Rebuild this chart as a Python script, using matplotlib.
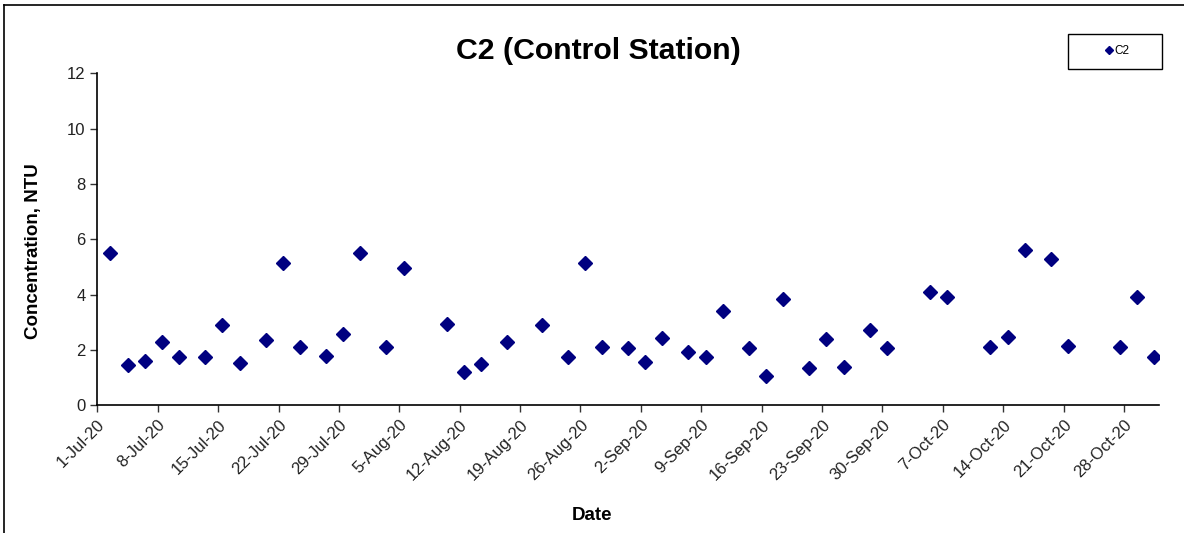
"""
C2 (Control Station) turbidity scatter, Jul-Oct 2020
"""
import matplotlib
matplotlib.use('Agg')
import matplotlib.pyplot as plt
from matplotlib.lines import Line2D
import pandas as pd

plt.rcParams['font.family'] = ['Liberation Sans', 'DejaVu Sans']

# sampling dates and readings
dates = ['2020-07-02', '2020-07-04', '2020-07-06', '2020-07-08', '2020-07-10', '2020-07-13',
         '2020-07-15', '2020-07-17', '2020-07-20', '2020-07-22', '2020-07-24', '2020-07-27',
         '2020-07-29', '2020-07-31', '2020-08-03', '2020-08-05', '2020-08-10', '2020-08-12',
         '2020-08-14', '2020-08-17', '2020-08-21', '2020-08-24', '2020-08-26', '2020-08-28',
         '2020-08-31', '2020-09-02', '2020-09-04', '2020-09-07', '2020-09-09', '2020-09-11',
         '2020-09-14', '2020-09-16', '2020-09-18', '2020-09-21', '2020-09-23', '2020-09-25',
         '2020-09-28', '2020-09-30', '2020-10-05', '2020-10-07', '2020-10-12', '2020-10-14',
         '2020-10-16', '2020-10-19', '2020-10-21', '2020-10-27', '2020-10-29', '2020-10-31']
c2 = [5.52, 1.46, 1.59, 2.29, 1.73, 1.75, 2.89, 1.53, 2.35, 5.14, 2.11, 1.79,
      2.58, 5.52, 2.11, 4.95, 2.94, 1.20, 1.48, 2.28, 2.89, 1.73, 5.14, 2.11,
      2.08, 1.56, 2.42, 1.94, 1.73, 3.41, 2.08, 1.05, 3.85, 1.34, 2.38, 1.37,
      2.72, 2.08, 4.11, 3.91, 2.11, 2.47, 5.62, 5.30, 2.13, 2.11, 3.93, 1.75]
y_ticks = [0, 2, 4, 6, 8, 10, 12]

# 画图
fig = plt.figure(figsize=(11.84, 5.33), dpi=100)
ax = fig.add_axes([0.0822, 0.2396, 0.8963, 0.6229])

# Excel puts each point in the middle of its day
x = pd.to_datetime(dates) + pd.Timedelta(hours=12)
ax.plot(x, c2, 'D', color='#000080', ms=7.5, mec='#000080', ls='none', label='C2')

ax.set_xlim(pd.Timestamp('2020-07-01'), pd.Timestamp('2020-11-01'))
ax.set_ylim(0, 12)
ax.set_yticks(y_ticks)
ticks = pd.date_range('2020-07-01', '2020-10-28', freq='7D')
ax.set_xticks(ticks)
ax.set_xticklabels(['%d-%s' % (t.day, t.strftime('%b-%y')) for t in ticks],
                   rotation=45, ha='right', va='top', rotation_mode='anchor', fontsize=12)
ax.tick_params(axis='y', labelsize=12)
ax.tick_params(direction='out', length=5, width=1, color='#333333', labelcolor='#222222')
for s in ['top', 'right']:
    ax.spines[s].set_visible(False)
for s in ['left', 'bottom']:
    ax.spines[s].set_linewidth(1.2)

fig.text(0.5053, 0.904, 'C2 (Control Station)', ha='center', va='center',
         fontsize=21.8, fontweight='bold')
fig.text(0.4997, 0.032, 'Date', ha='center', va='center', fontsize=13.5, fontweight='bold')
fig.text(0.0287, 0.528, 'Concentration, NTU', ha='center', va='center', rotation=90,
         fontsize=13.5, fontweight='bold')

ax.legend(loc='upper left', bbox_to_anchor=(0.902, 0.874, 0.079, 0.062),
          bbox_transform=fig.transFigure, mode='expand', borderaxespad=0,
          fontsize=8.5, markerscale=0.5, numpoints=1, handlelength=5.0,
          handletextpad=-2.0, borderpad=0.95, fancybox=False,
          edgecolor='#000000', framealpha=1)

# chart area border (cut off on the right/bottom)
fig.add_artist(Line2D([0.0036, 1], [0.990, 0.990], transform=fig.transFigure,
                      color='black', lw=1.2))
fig.add_artist(Line2D([0.0036, 0.0036], [0, 0.990], transform=fig.transFigure,
                      color='black', lw=1.2))

plt.savefig('out.png', dpi=100)
